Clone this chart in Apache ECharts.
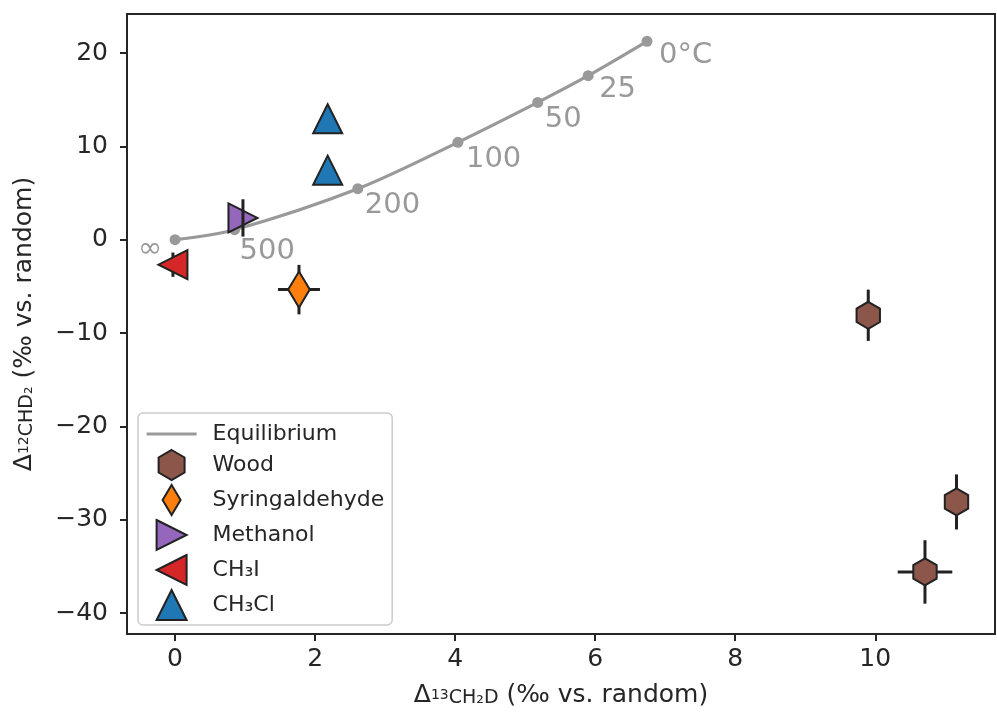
<!DOCTYPE html>
<html>
<head>
<meta charset="utf-8">
<script src="https://cdn.jsdelivr.net/npm/echarts@6/dist/echarts.min.js"></script>
<style>
html,body{margin:0;padding:0;background:#fff;}
#chart{width:997px;height:716px;}
</style>
</head>
<body>
<div id="chart"></div>
<script>
// ---- data ----
const xTicks = [0, 2, 4, 6, 8, 10];
const yTicks = [-40, -30, -20, -10, 0, 10, 20];

const eqLabels = ['0°C', '25', '50', '100', '200', '500', '∞'];
const eqX = [6.74, 5.90, 5.18, 4.04, 2.61, 0.85, 0.0];
const eqY = [21.25, 17.57, 14.71, 10.43, 5.46, 1.07, 0.0];

const woodX = [9.90, 11.16, 10.71];
const woodY = [-8.1, -28.1, -35.6];
const woodXErr = [0.1, 0.1, 0.39];
const woodYErr = [2.75, 2.95, 3.4];

const syrX = [1.77];
const syrY = [-5.35];
const syrXErr = [0.30];
const syrYErr = [2.65];

const methX = [0.97];
const methY = [2.33];
const methXErr = [0.0];
const methYErr = [2.0];

const ch3iX = [-0.03];
const ch3iY = [-2.68];
const ch3iXErr = [0.1];
const ch3iYErr = [1.3];

const ch3clX = [2.18, 2.18];
const ch3clY = [12.95, 7.45];
const ch3clXErr = [0.1, 0.1];
const ch3clYErr = [0.8, 0.8];

// ---- styles ----
const GRAY = '#999999';
const INK = '#262626';
const FONT = 'DejaVu Sans';
const labelOffsets = {
  '0°C': [12, 14], '25': [11, 14], '50': [7, 17], '100': [8, 17],
  '200': [7, 17], '500': [5, 22], '∞': [-13, 10]
};
const SYM = {
  hex: 'path://M0,-1 L0.866,-0.5 L0.866,0.5 L0,1 L-0.866,0.5 L-0.866,-0.5 Z',
  diamond: 'path://M0,-1 L0.6,0 L0,1 L-0.6,0 Z',
  up: 'path://M0,-1 L1,1 L-1,1 Z',
  right: 'path://M-1,-1 L1,0 L-1,1 Z',
  left: 'path://M1,-1 L-1,0 L1,1 Z'
};

function zip(xs, ys) { return xs.map((x, i) => [x, ys[i]]); }
function zipErr(xs, ys, ex, ey) { return xs.map((x, i) => [x, ys[i], ex[i], ey[i]]); }

const eqData = eqX.map((x, i) => {
  const lab = eqLabels[i];
  const isInf = lab === '∞';
  return {
    value: [x, eqY[i]],
    label: {
      show: true, formatter: lab, position: 'inside',
      align: isInf ? 'right' : 'left', verticalAlign: 'middle',
      offset: labelOffsets[lab], color: GRAY, fontSize: 29, fontFamily: FONT
    }
  };
});

function errRender(params, api) {
  const x = api.value(0), y = api.value(1), ex = api.value(2), ey = api.value(3);
  const style = { stroke: '#222', lineWidth: 3 };
  const children = [];
  if (ex > 0) {
    const a = api.coord([x - ex, y]), b = api.coord([x + ex, y]);
    children.push({ type: 'line', shape: { x1: a[0], y1: a[1], x2: b[0], y2: b[1] }, style });
  }
  if (ey > 0) {
    const a = api.coord([x, y - ey]), b = api.coord([x, y + ey]);
    children.push({ type: 'line', shape: { x1: a[0], y1: a[1], x2: b[0], y2: b[1] }, style });
  }
  return { type: 'group', children };
}

const errBelow = [].concat(
  zipErr(woodX, woodY, woodXErr, woodYErr),
  zipErr(syrX, syrY, syrXErr, syrYErr),
  zipErr(ch3iX, ch3iY, ch3iXErr, ch3iYErr),
  zipErr(ch3clX, ch3clY, ch3clXErr, ch3clYErr)
);
const errAbove = zipErr(methX, methY, methXErr, methYErr);

function scatter(name, xs, ys, color, symbol, size) {
  return {
    name, type: 'scatter', data: zip(xs, ys), symbol, symbolSize: size,
    symbolKeepAspect: true, z: 5,
    itemStyle: { color, borderColor: '#222', borderWidth: 2, opacity: 1 }
  };
}

const richName = {
  d: { fontSize: 25, fontFamily: FONT, color: INK },
  s: { fontSize: 14, fontFamily: FONT, color: INK, verticalAlign: 'middle' },
  c: { fontSize: 19, fontFamily: FONT, color: INK, verticalAlign: 'bottom' }
};

const chart = echarts.init(document.getElementById('chart'), null, { renderer: 'canvas' });
const option = {
  backgroundColor: '#fff',
  animation: false,
  textStyle: { fontFamily: FONT },
  grid: {
    left: 127, right: 2, top: 14, bottom: 82,
    containLabel: false, outerBoundsMode: 'none',
    show: true, borderColor: INK, borderWidth: 2, backgroundColor: 'transparent'
  },
  xAxis: {
    type: 'value', min: -0.686, max: 11.71,
    splitLine: { show: false },
    axisLine: { show: true, onZero: false, lineStyle: { color: INK, width: 2 } },
    axisTick: { show: true, length: 7, lineStyle: { color: INK, width: 2 }, customValues: xTicks },
    axisLabel: { color: INK, fontSize: 25, fontFamily: FONT, margin: 13, customValues: xTicks,
      formatter: v => (v < 0 ? '\u2212' + Math.abs(v) : String(v)) },
    name: '{d|Δ}{s|13}{c|CH₂D}{d| (‰ vs. random)}',
    nameLocation: 'middle', nameGap: 49,
    nameTextStyle: { color: INK, rich: richName }
  },
  yAxis: {
    type: 'value', min: -42.25, max: 24.18,
    splitLine: { show: false },
    axisLine: { show: true, onZero: false, lineStyle: { color: INK, width: 2 } },
    axisTick: { show: true, length: 7, lineStyle: { color: INK, width: 2 }, customValues: yTicks },
    axisLabel: { color: INK, fontSize: 25, fontFamily: FONT, margin: 19, customValues: yTicks,
      formatter: v => (v < 0 ? '\u2212' + Math.abs(v) : String(v)) },
    name: '{d|Δ}{s|12}{c|CHD₂}{d| (‰ vs. random)}',
    nameLocation: 'middle', nameGap: 90, nameRotate: 90,
    nameTextStyle: { color: INK, rich: richName }
  },
  legend: {
    orient: 'vertical', left: 138, top: 413,
    padding: [9, 8, 4, 7],
    itemWidth: 50, itemHeight: 30, itemGap: 3,
    backgroundColor: 'rgba(255,255,255,0.85)',
    borderColor: '#cccccc', borderWidth: 1.5, borderRadius: 5,
    textStyle: { fontSize: 22, fontFamily: FONT, color: INK, padding: [0, 0, 0, 11] },
    data: [
      { name: 'Equilibrium', itemStyle: { opacity: 0 }, lineStyle: { width: 3.2, color: GRAY } },
      'Wood', 'Syringaldehyde', 'Methanol', 'CH₃I', 'CH₃Cl'
    ]
  },
  series: [
    {
      name: 'Equilibrium', type: 'line', data: eqData,
      smooth: 0.3,
      symbol: 'circle', symbolSize: 11, z: 2,
      lineStyle: { color: GRAY, width: 3.2 },
      itemStyle: { color: GRAY }
    },
    {
      name: 'errBelow', type: 'custom', data: errBelow, renderItem: errRender,
      encode: { x: 0, y: 1 }, z: 3, silent: true
    },
    scatter('Wood', woodX, woodY, '#8c564b', SYM.hex, 27),
    scatter('Syringaldehyde', syrX, syrY, '#ff7f0e', SYM.diamond, 36),
    scatter('Methanol', methX, methY, '#9467bd', SYM.right, 29),
    scatter('CH₃I', ch3iX, ch3iY, '#d62728', SYM.left, 29),
    scatter('CH₃Cl', ch3clX, ch3clY, '#1f77b4', SYM.up, 29),
    {
      name: 'errAbove', type: 'custom', data: errAbove, renderItem: errRender,
      encode: { x: 0, y: 1 }, z: 7, silent: true
    }
  ]
};
chart.setOption(option);
</script>
</body>
</html>
